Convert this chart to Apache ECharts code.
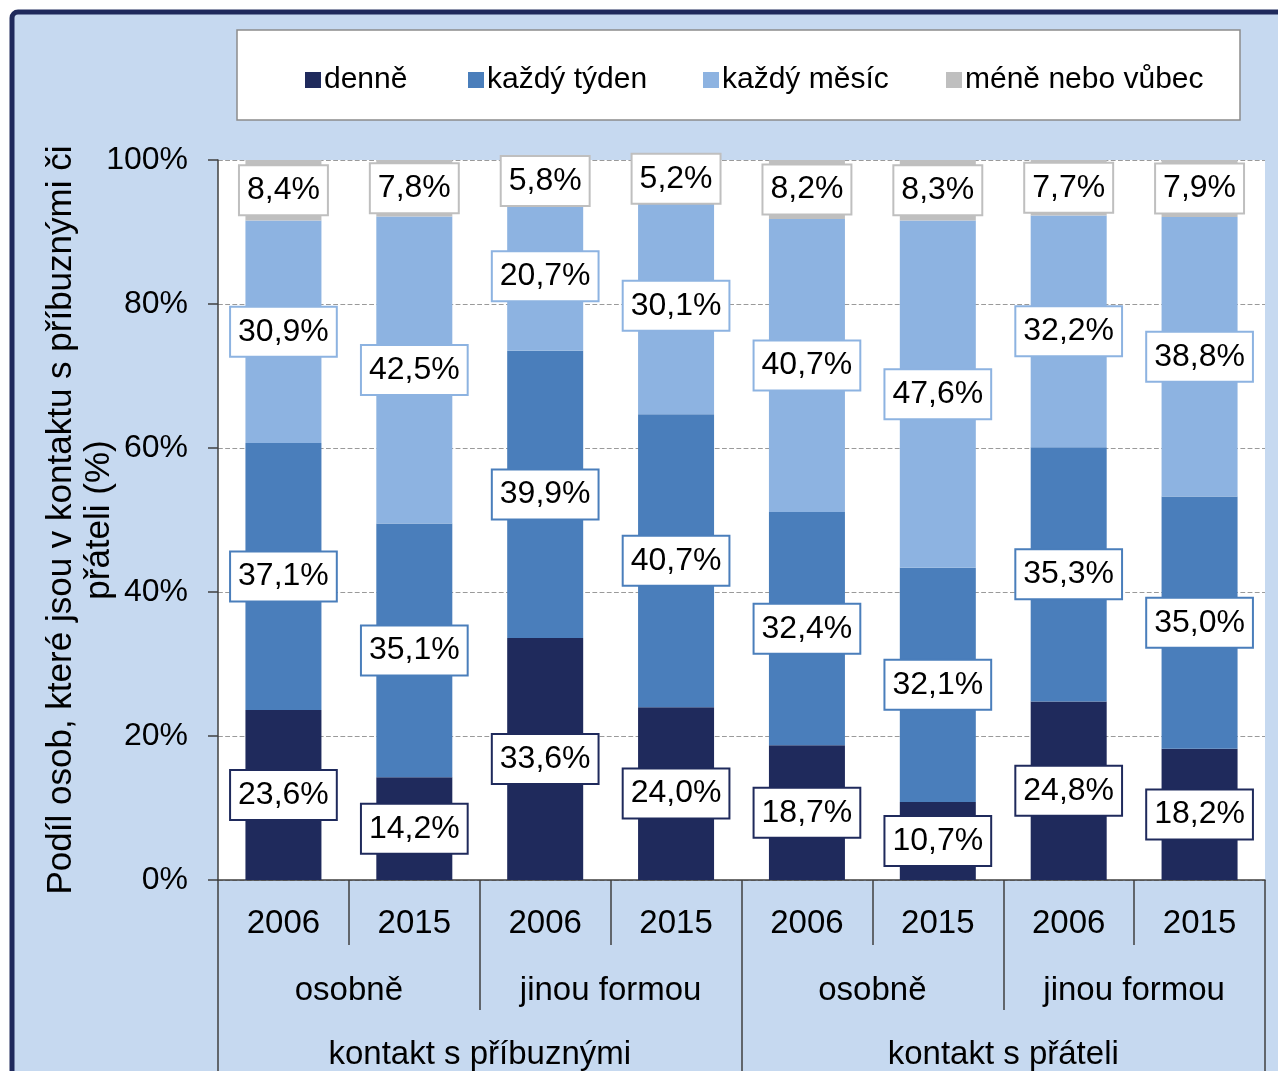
<!DOCTYPE html>
<html>
<head>
<meta charset="utf-8">
<script src="https://cdn.jsdelivr.net/npm/echarts@6/dist/echarts.min.js"></script>
<style>
html, body { margin: 0; padding: 0; background: #fff; }
#chart { width: 1278px; height: 1071px; }
</style>
</head>
<body>
<div id="chart"></div>
<script>
var years = ['2006', '2015', '2006', '2015', '2006', '2015', '2006', '2015'];
var forms = ['osobně', 'jinou formou', 'osobně', 'jinou formou'];
var groups = ['kontakt s příbuznými', 'kontakt s přáteli'];
var seriesNames = ['denně', 'každý týden', 'každý měsíc', 'méně nebo vůbec'];

var denne = [23.6, 14.2, 33.6, 24.0, 18.7, 10.7, 24.8, 18.2];
var tyden = [37.1, 35.1, 39.9, 40.7, 32.4, 32.1, 35.3, 35.0];
var mesic = [30.9, 42.5, 20.7, 30.1, 40.7, 47.6, 32.2, 38.8];
var mene = [8.4, 7.8, 5.8, 5.2, 8.2, 8.3, 7.7, 7.9];

var colors = ['#1f2a5c', '#4a7ebb', '#8db3e1', '#bfbfbf'];
var FONT = 'Liberation Sans, Arial, sans-serif';

var chartDom = document.getElementById('chart');
var myChart = echarts.init(chartDom);
var option;

// 100% stacked: each column is scaled to its own total
var all = [denne, tyden, mesic, mene];
var totals = years.map(function (y, i) {
  return denne[i] + tyden[i] + mesic[i] + mene[i];
});

function makeSeries(idx) {
  return {
    name: seriesNames[idx],
    type: 'bar',
    stack: 'total',
    barWidth: 76,
    itemStyle: { color: colors[idx] },
    data: all[idx].map(function (v, i) {
      return { value: v / totals[i] * 100, raw: v };
    }),
    label: {
      show: true,
      position: 'inside',
      formatter: function (p) {
        return p.data.raw.toFixed(1).replace('.', ',') + '%';
      },
      color: '#000',
      fontFamily: FONT,
      fontSize: 32,
      backgroundColor: '#fff',
      borderColor: colors[idx],
      borderWidth: 2,
      padding: [9, 7, 7, 7]
    },
    emphasis: { disabled: true }
  };
}

var legendLeft = [300, 463, 698, 941];
var legends = seriesNames.map(function (n, i) {
  return {
    data: [n],
    left: legendLeft[i],
    top: 60,
    itemWidth: 16,
    itemHeight: 16,
    icon: 'rect',
    selectedMode: false,
    textStyle: { fontFamily: FONT, fontSize: 30, color: '#000', padding: [0, 0, 0, -2] }
  };
});

option = {
  animation: false,
  textStyle: { fontFamily: FONT },
  graphic: [
    {
      type: 'rect',
      z: -10,
      shape: { x: 12, y: 12, width: 1400, height: 1200, r: 6 },
      style: { fill: '#c6d9f0', stroke: '#1f2a5c', lineWidth: 5 }
    },
    {
      type: 'rect',
      z: -5,
      shape: { x: 237, y: 30, width: 1003, height: 90 },
      style: { fill: '#fff', stroke: '#8c8c8c', lineWidth: 1.5 }
    }
  ],
  legend: legends,
  grid: {
    left: 218,
    right: 13,
    top: 160,
    bottom: 191,
    show: true,
    backgroundColor: '#fff',
    borderWidth: 0
  },
  xAxis: [
    {
      type: 'category',
      data: years,
      position: 'bottom',
      offset: 0,
      axisLine: { show: true, lineStyle: { color: '#404040', width: 1.5 } },
      axisTick: { show: true, interval: 0, length: 65, lineStyle: { color: '#404040', width: 1.5 } },
      axisLabel: { interval: 0, margin: 27, color: '#000', fontSize: 33, fontFamily: FONT }
    },
    {
      type: 'category',
      data: forms,
      position: 'bottom',
      offset: 0,
      axisLine: { show: false },
      axisTick: { show: true, interval: 0, length: 130, lineStyle: { color: '#404040', width: 1.5 } },
      axisLabel: { interval: 0, margin: 94, color: '#000', fontSize: 33, fontFamily: FONT }
    },
    {
      type: 'category',
      data: groups,
      position: 'bottom',
      offset: 0,
      axisLine: { show: false },
      axisTick: { show: true, interval: 0, length: 220, lineStyle: { color: '#404040', width: 1.5 } },
      axisLabel: { interval: 0, margin: 158, color: '#000', fontSize: 33, fontFamily: FONT }
    }
  ],
  yAxis: {
    type: 'value',
    min: 0,
    max: 100,
    interval: 20,
    name: 'Podíl osob, které jsou v kontaktu s příbuznými či\npřáteli (%)',
    nameLocation: 'middle',
    nameGap: 100,
    nameMoveOverlap: false,
    nameTextStyle: { fontFamily: FONT, fontSize: 35, color: '#000', lineHeight: 38 },
    axisLine: { show: true, lineStyle: { color: '#404040', width: 1.5 } },
    axisTick: { show: true, length: 10, lineStyle: { color: '#404040', width: 1.5 } },
    axisLabel: {
      margin: 30,
      color: '#000',
      fontSize: 32,
      fontFamily: FONT,
      formatter: '{value}%'
    },
    splitLine: { show: true, lineStyle: { color: '#9a9a9a', type: 'dashed', width: 1.2 } }
  },
  series: [makeSeries(0), makeSeries(1), makeSeries(2), makeSeries(3)]
};

option && myChart.setOption(option);
</script>
</body>
</html>
